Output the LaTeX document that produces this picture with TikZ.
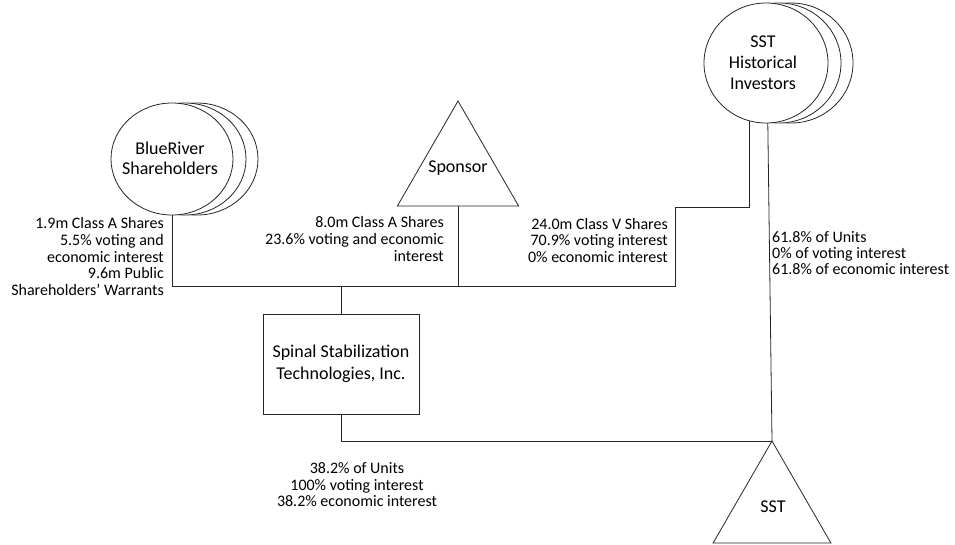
\documentclass[tikz,border=0pt]{standalone}
\usepackage{fontspec}
\setmainfont{Carlito}
\usetikzlibrary{shapes.geometric}
\pgfdeclarelayer{bg}
\pgfsetlayers{bg,main}
\tikzset{
  ln/.style={draw=black!85, line width=0.8pt},
  holder/.style={ellipse, ln, fill=white, inner xsep=-16pt, inner ysep=-8pt, outer sep=0pt, align=center,
    font=\fontsize{18}{21}\selectfont},
  tri/.style={regular polygon, regular polygon sides=3, ln, fill=white, inner sep=-12pt, outer sep=0pt,
    font=\fontsize{18}{21}\selectfont},
  entity/.style={rectangle, ln, fill=white, inner sep=0pt, outer sep=0pt, align=center,
    minimum width=156pt, minimum height=100pt, font=\fontsize{18}{22}\selectfont},
  lbl/.style={inner sep=0pt, font=\fontsize{16}{16.6}\selectfont},
  conn/.style={ln}
}
\begin{document}
\begin{tikzpicture}[x=1pt,y=-1pt]
\useasboundingbox (0,0) rectangle (955,544);

% BlueRiver shareholders (stacked ellipses)
\node[holder, minimum width=122pt, minimum height=112pt] (brb2) at (197,159) {};
\node[holder, minimum width=122pt, minimum height=112pt] (brb1) at (185,159) {};
\node[holder, minimum width=122pt, minimum height=112pt] (br) at (172,159) {};
\node[inner sep=0pt, align=center, font=\fontsize{18}{20}\selectfont] (brt) at (170,158) {BlueRiver\\Shareholders};

% SST historical investors (stacked ellipses)
\node[holder, minimum width=124pt, minimum height=120pt] (hib2) at (791,63) {};
\node[holder, minimum width=124pt, minimum height=120pt] (hib1) at (779,63) {};
\node[holder, minimum width=124pt, minimum height=120pt] (hist) at (766,63) {};
\node[inner sep=0pt, align=center, font=\fontsize{18}{21}\selectfont] (hit) at (763,63) {SST\\Historical\\Investors};

% Sponsor and SST triangles
\node[tri, minimum size=140pt] (sp) at (458,171) {};
\node[font=\fontsize{18}{21}\selectfont, inner sep=0pt] (spt) at (458,168) {Sponsor};
\node[tri, minimum size=136pt] (sst) at (772,509) {};
\node[font=\fontsize{18}{21}\selectfont, inner sep=0pt] (sstt) at (773,507) {SST};

% Spinal Stabilization Technologies, Inc.
\node[entity] (stb) at (341,364) {Spinal Stabilization\\Technologies, Inc.};

% connector helper points
\coordinate (vstep) at (675,207);
\coordinate (vbus) at (675,286);

\begin{pgfonlayer}{bg}
  \draw[conn] ([xshift=-17pt]hist.center) |- (vstep) -- (vbus) -| (br.center);
  \draw[conn] (sp.center) -- (sp.center |- vbus);
  \draw[conn] (stb.north) -- (stb.north |- vbus);
  \draw[conn] ([xshift=1pt]hist.center) -- (sst.corner 1);
  \draw[conn] (stb.south) |- (sst.corner 1);
\end{pgfonlayer}

% labels
\node[lbl, align=right, anchor=north east] (lbr) at (164,217.5)
  {1.9m Class A Shares\\5.5\% voting and\\economic interest\\9.6m Public\\Shareholders’ Warrants};
\node[lbl, align=right, anchor=north east] (lsp) at (444,216.5)
  {8.0m Class A Shares\\23.6\% voting and economic\\interest};
\node[lbl, align=right, anchor=north east] (lcv) at (668,218)
  {24.0m Class V Shares\\70.9\% voting interest\\0\% economic interest};
\node[lbl, align=left, anchor=north west, font=\fontsize{16}{16}\selectfont] (lhi) at (772,231)
  {61.8\% of Units\\0\% of voting interest\\61.8\% of economic interest};
\node[lbl, align=center, anchor=north] (lst) at (357,462.5)
  {38.2\% of Units\\100\% voting interest\\38.2\% economic interest};
\end{tikzpicture}
\end{document}
